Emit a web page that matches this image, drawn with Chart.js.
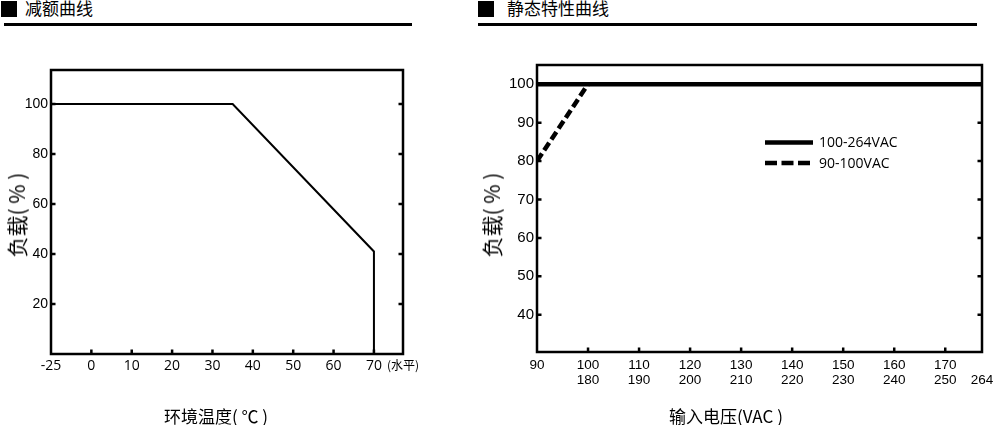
<!DOCTYPE html>
<html><head><meta charset="utf-8">
<script src="https://cdn.jsdelivr.net/npm/chart.js@4/dist/chart.umd.min.js"></script>
<style>
html,body{margin:0;padding:0;background:#fff;}
body{width:1001px;height:425px;position:relative;overflow:hidden;font-family:"Noto Sans CJK SC","Noto Sans",sans-serif;color:#000;}
canvas{position:absolute;top:0;}
.hd{position:absolute;top:-2px;font-size:17px;line-height:20px;white-space:nowrap;}
.sq{position:absolute;width:16px;height:16px;background:#000;top:1px;}
.rule{position:absolute;height:3px;background:#000;top:23px;}
.t{position:absolute;font-size:17px;line-height:20px;white-space:nowrap;transform:translate(-50%,-50%);}
.ty{position:absolute;font-size:21px;line-height:24px;white-space:nowrap;transform:translate(-50%,-50%) rotate(-90deg);}
</style></head>
<body>
<div class="sq" style="left:1px"></div><div class="hd" style="left:25px">减额曲线</div>
<div class="rule" style="left:4px;width:408px"></div>
<div class="sq" style="left:478px"></div><div class="hd" style="left:507px">静态特性曲线</div>
<div class="rule" style="left:478px;width:499px"></div>
<canvas id="c1" width="470" height="425" style="left:0"></canvas>
<canvas id="c2" width="531" height="425" style="left:470px"></canvas>
<div class="ty" style="left:16px;top:215px">负载( % )</div>
<div class="t" style="left:216px;top:416px">环境温度( ℃ )</div>
<div class="ty" style="left:491px;top:215px">负载( % )</div>
<div class="t" style="left:726px;top:416px">输入电压(VAC )</div>
<script>
// ---- Derating curve data ----
const deratingTemp = [-25, 35, 70, 70];
const deratingLoad = [100, 100, 41, 0];
const tempTicks = [-25, 0, 10, 20, 30, 40, 50, 60, 70];
const tempEndLabel = '(水平)';
const loadTicksLeft = [20, 40, 60, 80, 100];

// ---- Static characteristic data ----
const vacLowTicks = [90, 100, 110, 120, 130, 140, 150, 160, 170];
const vacHighTicks = [null, 180, 190, 200, 210, 220, 230, 240, 250];
const vacEndLabel = '264';
const solidVac = [90, 264];
const solidLoad = [100, 100];
const dashVac = [90, 100];
const dashLoad = [80, 100];
const seriesNames = ['100-264VAC', '90-100VAC'];
const loadTicksRight = [40, 50, 60, 70, 80, 90, 100];

// broken temperature axis: the -25 segment is compressed
const tempToAxis = t => (t < 0 ? t * 0.4 : t);

const frameTicks = {
  id: 'frameTicks',
  afterDatasetsDraw(chart, args, o) {
    const {ctx, chartArea: a} = chart;
    const xs = chart.scales.x, ys = chart.scales.y;
    ctx.save();
    ctx.strokeStyle = '#000';
    ctx.lineWidth = o.tickWidth;
    ctx.beginPath();
    o.xTicks.forEach(v => {
      const px = xs.getPixelForValue(v);
      ctx.moveTo(px, a.bottom); ctx.lineTo(px, a.bottom - o.len);
    });
    o.yTicks.forEach(v => {
      const py = ys.getPixelForValue(v);
      ctx.moveTo(a.left, py); ctx.lineTo(a.left + o.len, py);
      ctx.moveTo(a.right, py); ctx.lineTo(a.right - o.len, py);
    });
    ctx.stroke();
    ctx.lineWidth = o.borderWidth;
    ctx.strokeRect(a.left, a.top, a.right - a.left, a.bottom - a.top);
    ctx.restore();
  }
};

const lineLegend = {
  id: 'lineLegend',
  afterDraw(chart, args, o) {
    if (!o.display) return;
    const ctx = chart.ctx;
    ctx.save();
    chart.data.datasets.forEach((ds, i) => {
      const y = o.y + i * o.gap;
      ctx.strokeStyle = ds.borderColor;
      ctx.lineWidth = ds.borderWidth;
      ctx.setLineDash(o.dashes[i]);
      ctx.beginPath();
      ctx.moveTo(o.x, y); ctx.lineTo(o.x + o.w, y);
      ctx.stroke();
      ctx.setLineDash([]);
      ctx.fillStyle = '#000';
      ctx.font = o.font;
      ctx.textBaseline = 'middle';
      ctx.textAlign = 'left';
      ctx.fillText(ds.label, o.x + o.w + 6, y + 1);
    });
    ctx.restore();
  }
};

// ---- Chart 1: derating ----
const xMin1 = tempToAxis(deratingTemp[0]);
const xMax1 = 77.2;
new Chart(document.getElementById('c1'), {
  type: 'scatter',
  data: {
    datasets: [{
      data: deratingTemp.map((t, i) => ({x: tempToAxis(t), y: deratingLoad[i]})),
      showLine: true, borderColor: '#000', borderWidth: 2, pointRadius: 0,
      borderJoinStyle: 'miter', fill: false
    }]
  },
  options: {
    responsive: false, animation: false, events: [],
    layout: {padding: {left: 0, top: 70, right: 67, bottom: 0}},
    plugins: {
      legend: {display: false}, tooltip: {enabled: false},
      frameTicks: {
        xTicks: tempTicks.filter(t => t >= 0).map(tempToAxis),
        yTicks: loadTicksLeft, len: 4.5, tickWidth: 2.5, borderWidth: 2.5
      },
      lineLegend: {display: false}
    },
    scales: {
      x: {
        type: 'linear', min: xMin1, max: xMax1,
        grid: {display: false, drawTicks: false}, border: {display: false},
        afterFit: s => { s.height = 71; },
        afterBuildTicks: s => {
          s.ticks = tempTicks.map(t => ({value: tempToAxis(t)})).concat([{value: xMax1}]);
        },
        ticks: {
          autoSkip: false, maxRotation: 0, padding: 4, color: '#000',
          font: c => (c.index === tempTicks.length
            ? {family: '"Noto Sans CJK SC"', size: 12}
            : {family: '"Open Sans"', size: 14}),
          callback: (v, i) => (i < tempTicks.length ? String(tempTicks[i]) : tempEndLabel)
        }
      },
      y: {
        type: 'linear', min: 0, max: 113.6,
        grid: {display: false, drawTicks: false}, border: {display: false},
        afterFit: s => { s.width = 51; },
        afterBuildTicks: s => { s.ticks = loadTicksLeft.map(v => ({value: v})); },
        ticks: {padding: 3, color: '#000', font: {family: '"Liberation Sans"', size: 14}}
      }
    }
  },
  plugins: [frameTicks, lineLegend]
});

// ---- Chart 2: static characteristics ----
const xMin2 = vacLowTicks[0];
const xMax2 = 177.2;
new Chart(document.getElementById('c2'), {
  type: 'scatter',
  data: {
    datasets: [
      {
        label: seriesNames[0],
        data: solidVac.map((v, i) => ({x: v, y: solidLoad[i]})),
        showLine: true, borderColor: '#000', borderWidth: 4.5, pointRadius: 0, fill: false
      },
      {
        label: seriesNames[1],
        data: dashVac.map((v, i) => ({x: v, y: dashLoad[i]})),
        showLine: true, borderColor: '#000', borderWidth: 4.5, borderDash: [9, 4],
        pointRadius: 0, fill: false
      }
    ]
  },
  options: {
    responsive: false, animation: false, events: [],
    layout: {padding: {left: 0, top: 65, right: 19, bottom: 0}},
    plugins: {
      legend: {display: false}, tooltip: {enabled: false},
      frameTicks: {
        xTicks: vacLowTicks.slice(1),
        yTicks: loadTicksRight, len: 4.5, tickWidth: 2.5, borderWidth: 2.5
      },
      lineLegend: {
        display: true, x: 295, y: 142.5, gap: 20.5, w: 48,
        dashes: [[], [12, 4.5]], font: '14px "Open Sans"'
      }
    },
    scales: {
      x: {
        type: 'linear', min: xMin2, max: xMax2,
        grid: {display: false, drawTicks: false}, border: {display: false},
        afterFit: s => { s.height = 73; },
        afterBuildTicks: s => {
          s.ticks = vacLowTicks.map(v => ({value: v})).concat([{value: xMax2}]);
        },
        ticks: {
          autoSkip: false, maxRotation: 0, padding: 6, color: '#000',
          font: {family: '"Liberation Sans"', size: 13.5, lineHeight: 1.12},
          callback: (v, i) => {
            if (i >= vacLowTicks.length) return ['', vacEndLabel];
            const hi = vacHighTicks[i];
            return hi === null ? String(vacLowTicks[i]) : [String(vacLowTicks[i]), String(hi)];
          }
        }
      },
      y: {
        type: 'linear', min: 30.3, max: 105,
        grid: {display: false, drawTicks: false}, border: {display: false},
        afterFit: s => { s.width = 67; },
        afterBuildTicks: s => { s.ticks = loadTicksRight.map(v => ({value: v})); },
        ticks: {padding: 3, color: '#000', font: {family: '"Liberation Sans"', size: 15}}
      }
    }
  },
  plugins: [frameTicks, lineLegend]
});
</script>
</body></html>
